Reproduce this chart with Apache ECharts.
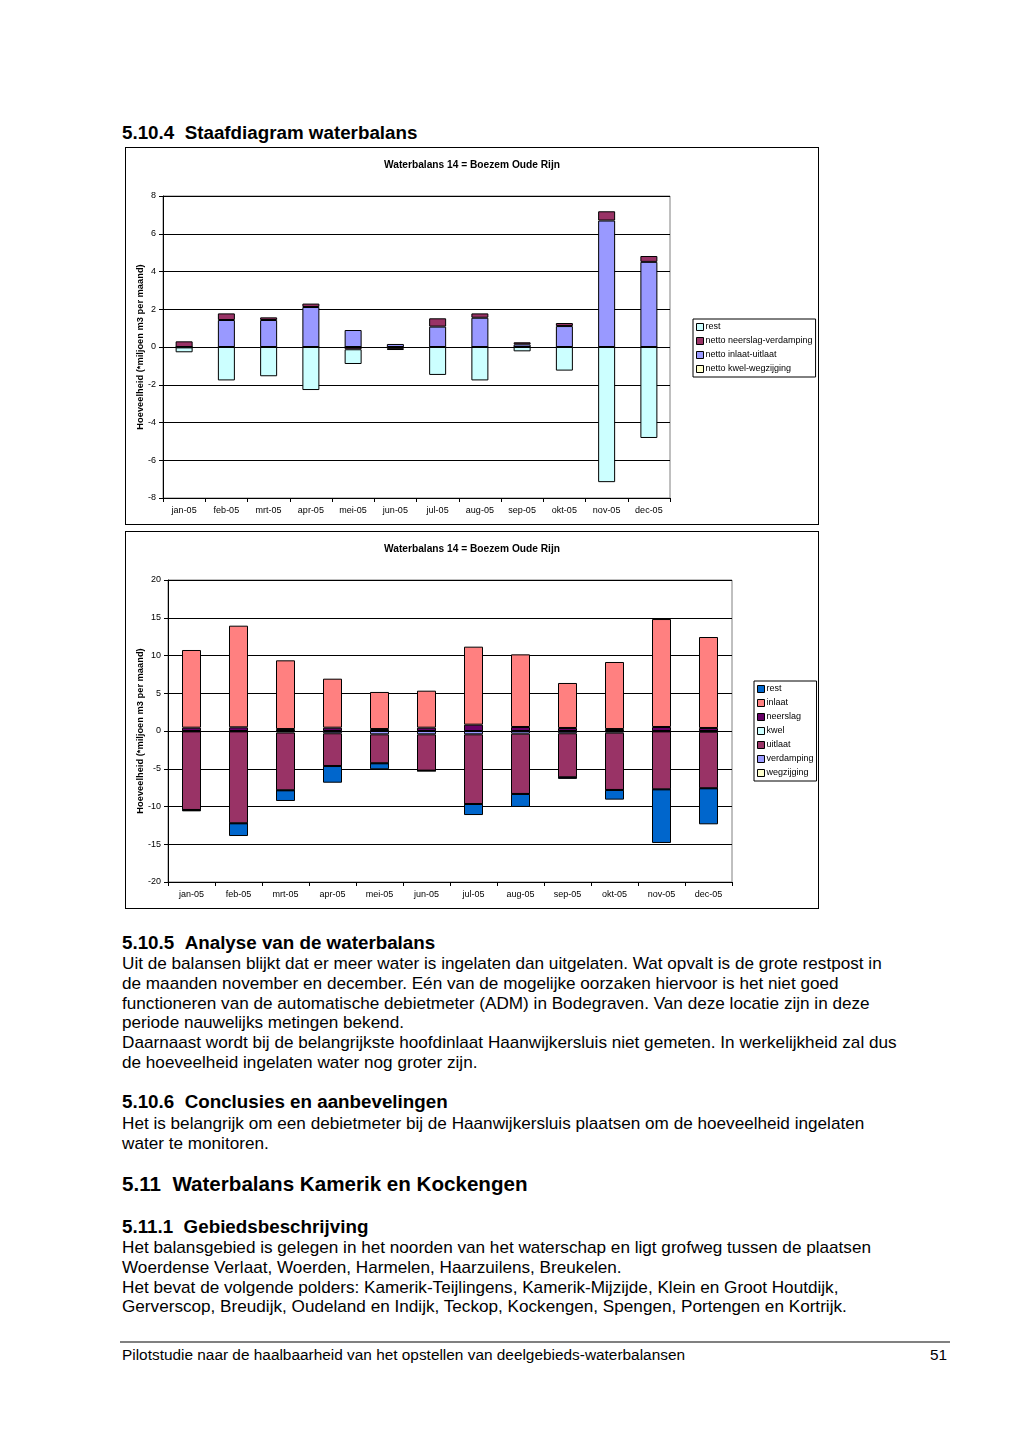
<!DOCTYPE html>
<html><head><meta charset="utf-8">
<script src="https://cdn.jsdelivr.net/npm/echarts@6/dist/echarts.min.js"></script>
<style>
html,body{margin:0;padding:0;background:#fff;}
body{width:1020px;height:1443px;position:relative;font-family:'Liberation Sans',Arial,sans-serif;color:#000;}
.t{position:absolute;left:122px;white-space:nowrap;font-size:17.15px;line-height:20px;}
.h{font-weight:bold;font-size:18.8px;}
.h2{font-weight:bold;font-size:20.6px;}
.box{position:absolute;left:125px;width:692px;height:376px;border:1px solid #000;}
</style></head><body>
<div class="t h" style="top:123px">5.10.4&nbsp;&nbsp;Staafdiagram waterbalans</div>
<div id="c1" class="box" style="top:147px"></div>
<div id="c2" class="box" style="top:531px"></div>
<div class="t h" style="top:933px">5.10.5&nbsp;&nbsp;Analyse van de waterbalans</div>
<div class="t" style="top:953px">Uit de balansen blijkt dat er meer water is ingelaten dan uitgelaten. Wat opvalt is de grote restpost in</div>
<div class="t" style="top:973px">de maanden november en december. Eén van de mogelijke oorzaken hiervoor is het niet goed</div>
<div class="t" style="top:993px">functioneren van de automatische debietmeter (ADM) in Bodegraven. Van deze locatie zijn in deze</div>
<div class="t" style="top:1012px">periode nauwelijks metingen bekend.</div>
<div class="t" style="top:1032px">Daarnaast wordt bij de belangrijkste hoofdinlaat Haanwijkersluis niet gemeten. In werkelijkheid zal dus</div>
<div class="t" style="top:1052px">de hoeveelheid ingelaten water nog groter zijn.</div>
<div class="t h" style="top:1092px">5.10.6&nbsp;&nbsp;Conclusies en aanbevelingen</div>
<div class="t" style="top:1113px">Het is belangrijk om een debietmeter bij de Haanwijkersluis plaatsen om de hoeveelheid ingelaten</div>
<div class="t" style="top:1133px">water te monitoren.</div>
<div class="t h2" style="top:1174px">5.11&nbsp;&nbsp;Waterbalans Kamerik en Kockengen</div>
<div class="t h" style="top:1217px">5.11.1&nbsp;&nbsp;Gebiedsbeschrijving</div>
<div class="t" style="top:1237px">Het balansgebied is gelegen in het noorden van het waterschap en ligt grofweg tussen de plaatsen</div>
<div class="t" style="top:1257px">Woerdense Verlaat, Woerden, Harmelen, Haarzuilens, Breukelen.</div>
<div class="t" style="top:1277px">Het bevat de volgende polders: Kamerik-Teijlingens, Kamerik-Mijzijde, Klein en Groot Houtdijk,</div>
<div class="t" style="top:1296px">Gerverscop, Breudijk, Oudeland en Indijk, Teckop, Kockengen, Spengen, Portengen en Kortrijk.</div>
<div style="position:absolute;left:120px;top:1341px;width:830px;height:2px;background:#808080"></div>
<div style="position:absolute;left:122px;top:1346px;font-family:'Liberation Sans',Arial,sans-serif;font-size:15.4px;line-height:18px;white-space:nowrap">Pilotstudie naar de haalbaarheid van het opstellen van deelgebieds-waterbalansen</div>
<div style="position:absolute;left:920px;width:27px;text-align:right;top:1346px;font-family:'Liberation Sans',Arial,sans-serif;font-size:15.4px;line-height:18px">51</div>
<script>
var months = ['jan-05','feb-05','mrt-05','apr-05','mei-05','jun-05','jul-05','aug-05','sep-05','okt-05','nov-05','dec-05'];
var chartTitle = 'Waterbalans 14 = Boezem Oude Rijn';
var yAxisTitle = 'Hoeveelheid (*miljoen m3 per maand)';

// chart 1 (netto)
var nettoKwelWegzijging   = [0,0,0,0,0,0,0,0,0,0,0,0];
var nettoInlaatUitlaat    = [-0.02,1.43,1.43,2.12,0.90,0.16,1.08,1.55,0.14,1.11,6.70,4.51];
var nettoNeerslagVerdamping = [0.30,0.35,0.14,0.18,-0.12,-0.10,0.44,0.23,0.11,0.16,0.49,0.31];
var rest1 = [-0.26,-1.77,-1.55,-2.28,-0.78,-0.06,-1.48,-1.77,-0.23,-1.25,-7.16,-4.82];

// chart 2 (bruto)
var wegzijging = [0,0,0,0,0,0,0,0,0,0,0,0];
var verdamping = [-0.05,-0.05,-0.20,-0.30,-0.44,-0.44,-0.44,-0.35,-0.30,-0.22,-0.05,-0.10];
var uitlaat    = [-10.41,-12.18,-7.66,-4.34,-3.84,-4.81,-9.23,-7.99,-5.84,-7.59,-7.68,-7.49];
var kwel       = [0,0,0,0,0,0,0,0,0,0,0,0];
var neerslag   = [0.44,0.49,0.26,0.44,0.26,0.44,0.84,0.53,0.40,0.26,0.53,0.40];
var inlaat     = [10.29,13.46,9.10,6.49,4.91,4.90,10.33,9.62,5.96,8.88,14.30,12.05];
var rest2      = [-0.18,-1.68,-1.41,-2.21,-0.79,-0.06,-1.46,-1.72,-0.20,-1.28,-7.10,-4.77];

var FF = "'Liberation Sans', Arial, sans-serif";

function bar(name, data, color, bw){
  return {name:name, type:'bar', stack:'s', data:data, barWidth:bw,
    itemStyle:{color:color, borderColor:'#000', borderWidth:1},
    emphasis:{disabled:true}, animation:false};
}
function legend(left, top, names){
  return {orient:'vertical', left:left, top:top, itemWidth:7, itemHeight:7, itemGap:4,
    icon:'rect', borderColor:'#000', borderWidth:1, padding:[3,3,3,3],
    itemStyle:{borderColor:'#000', borderWidth:1},
    data:names,
    textStyle:{fontFamily:FF, fontSize:9, color:'#000', padding:[0,0,0,-3], lineHeight:10}};
}
function base(gridLeft, gridW, min, max, interval, nameGap){
  return {
    animation:false,
    title:{text:chartTitle, left:'center', top:7, textStyle:{fontFamily:FF,fontSize:10.2,fontWeight:'bold',color:'#000'}},
    grid:{left:gridLeft, top:48, width:gridW, height:302, show:true, borderColor:'#808080', borderWidth:1,
      backgroundColor:'transparent', containLabel:false, outerBoundsMode:'none'},
    xAxis:{type:'category', data:months, position:'bottom',
      axisLine:{onZero:false, lineStyle:{color:'#000',width:1}},
      axisTick:{show:true, inside:false, length:4, lineStyle:{color:'#000'}},
      axisLabel:{fontFamily:FF, fontSize:9, color:'#000', margin:8, interval:0},
      splitLine:{show:false}},
    yAxis:{type:'value', min:min, max:max, interval:interval,
      name:yAxisTitle, nameLocation:'middle', nameGap:nameGap, nameRotate:90, nameMoveOverlap:false,
      nameTextStyle:{fontFamily:FF, fontSize:9.3, fontWeight:'bold', color:'#000'},
      axisLine:{show:true, lineStyle:{color:'#000',width:1}},
      axisTick:{show:true, length:4, lineStyle:{color:'#000'}},
      axisLabel:{fontFamily:FF, fontSize:9, color:'#000', margin:7},
      splitLine:{show:true, lineStyle:{color:'#000', width:1}}}
  };
}
var o1 = base(37, 507, -8, 8, 2, 18);
o1.legend = legend(567, 171, ['rest','netto neerslag-verdamping','netto inlaat-uitlaat','netto kwel-wegzijging']);
o1.series = [
  bar('netto kwel-wegzijging', nettoKwelWegzijging, '#FFFFCC', 17),
  bar('netto inlaat-uitlaat', nettoInlaatUitlaat, '#9999FF', 17),
  bar('netto neerslag-verdamping', nettoNeerslagVerdamping, '#993366', 17),
  bar('rest', rest1, '#CCFFFF', 17)
];
echarts.init(document.getElementById('c1'), null, {renderer:'canvas'}).setOption(o1);

var o2 = base(42, 564, -20, 20, 5, 23);
o2.legend = legend(628, 149, ['rest','inlaat','neerslag','kwel','uitlaat','verdamping','wegzijging']);
o2.series = [
  bar('wegzijging', wegzijging, '#FFFFCC', 19),
  bar('verdamping', verdamping, '#9999FF', 19),
  bar('uitlaat', uitlaat, '#993366', 19),
  bar('kwel', kwel, '#CCFFFF', 19),
  bar('neerslag', neerslag, '#660066', 19),
  bar('inlaat', inlaat, '#FF8080', 19),
  bar('rest', rest2, '#0066CC', 19)
];
echarts.init(document.getElementById('c2'), null, {renderer:'canvas'}).setOption(o2);
</script>
</body></html>
